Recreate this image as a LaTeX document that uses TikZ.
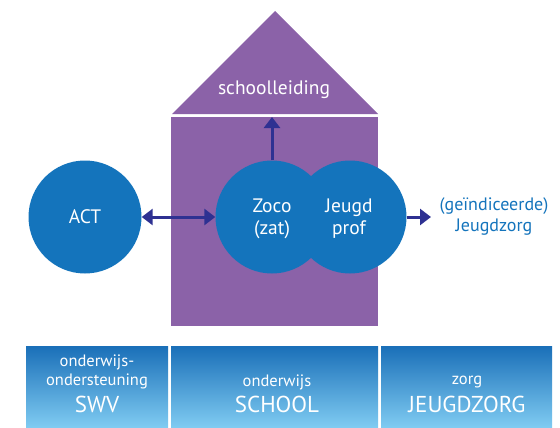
\documentclass[tikz,border=0pt]{standalone}
\usepackage{fontspec}
\setmainfont{PT Sans}
\usetikzlibrary{arrows.meta,shapes.geometric}
\definecolor{purp}{HTML}{8B62A8}
\definecolor{cblue}{HTML}{1474BC}
\definecolor{arr}{HTML}{2E3192}
\definecolor{bartop}{HTML}{1A6FB8}
\definecolor{barbot}{HTML}{80CCF2}
\tikzset{
  circ/.style={circle,fill=cblue,minimum size=113pt,inner sep=0pt},
  ctext/.style={text=white,font=\fontsize{19.5}{22}\selectfont,align=center,inner sep=0pt},
  conn/.style={draw=arr,line width=3pt,-{Triangle[length=11pt,width=16pt]}},
  bar/.style={top color=bartop,bottom color=barbot,draw=none},
  small/.style={text=white,font=\fontsize{16.5}{18}\selectfont,inner sep=0pt},
  big/.style={text=white,font=\fontsize{23}{25}\selectfont,inner sep=0pt},
}
\begin{document}
\begin{tikzpicture}[x=1pt,y=-1pt]
\useasboundingbox (0,0) rectangle (560,428);
% house
\fill[purp] (171,117) rectangle (378,326);
\fill[purp] (275,11) -- (378,114) -- (172,114) -- cycle;
\node[text=white,font=\fontsize{19.5}{21}\selectfont,inner sep=0pt] (lead) at (274,90) {schoolleiding};
% circles
\node[circ] (act) at (85,217) {};
\node[circ] (zoco) at (272,217) {};
\node[circ] (jeugd) at (350,217) {};
\node[ctext] (actt) at (act.center) {ACT};
\node[ctext] (zocot) at (272,219) {Zoco\\(zat)};
\node[ctext] (jeugdt) at (349,219) {Jeugd\\prof};
\coordinate (top) at (272,117);
\coordinate (rt) at (431,217);
\draw[conn,{Triangle[length=11pt,width=16pt]}-{Triangle[length=11pt,width=16pt]}] (act) -- (zoco);
\draw[conn] (zoco.north) -- (top);
\draw[conn] (jeugd.east) -- (rt);
\node[text=cblue,font=\fontsize{18}{21}\selectfont,align=center,inner sep=0pt] (gj) at (494,216) {(geïndiceerde)\\Jeugdzorg};
% bars
\shade[bar] (26,346) rectangle (168,428);
\shade[bar] (171,346) rectangle (378,428);
\shade[bar] (381,346) rectangle (552,428);
\node[small] (b1a) at (97,362) {onderwijs-};
\node[small] (b1b) at (97,381) {ondersteuning};
\node[big] (b1c) at (97,404) {SWV};
\node[small] (b2a) at (277,382) {onderwijs};
\node[big] (b2b) at (277,404) {SCHOOL};
\node[small] (b3a) at (467,382) {zorg};
\node[big] (b3b) at (467,404) {JEUGDZORG};
\end{tikzpicture}
\end{document}
